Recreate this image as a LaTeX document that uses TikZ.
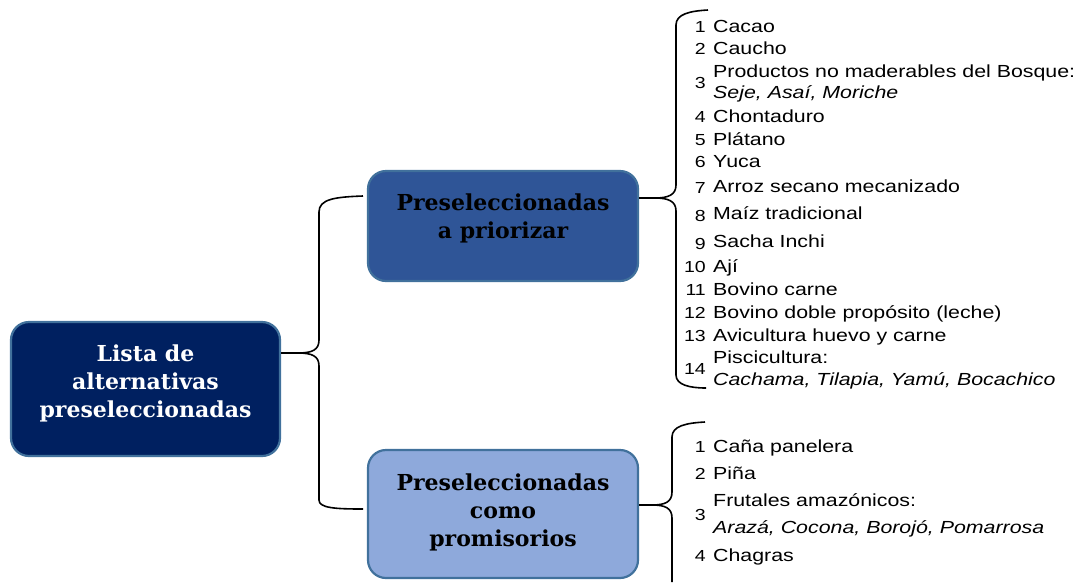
\documentclass[tikz,border=0pt]{standalone}
\usepackage{fontspec}
\newfontfamily\boxfont{DejaVu Serif}
\newfontfamily\listfont{Liberation Sans}[FakeStretch=1.22]
\definecolor{navy}{HTML}{002060}
\definecolor{midblue}{HTML}{2F5597}
\definecolor{lightblue}{HTML}{8EA9DB}
\definecolor{edgeblue}{HTML}{41719C}
\begin{document}
\begin{tikzpicture}[x=1pt,y=-1pt,
  box/.style={draw=edgeblue,line width=2.2pt,rounded corners=18pt,inner sep=0pt},
  boxtext/.style={font=\boxfont\bfseries\fontsize{22}{28}\selectfont,align=center,inner sep=0pt},
  item/.style={font=\listfont\fontsize{17.5}{21}\selectfont,anchor=base west,inner sep=0pt},
  num/.style={font=\listfont\fontsize{16}{18}\selectfont,anchor=base east,inner sep=0pt},
  brace/.style={line width=1.6pt,black}]
\useasboundingbox (0,0) rectangle (1081,582);
% boxes
\node[box,fill=navy,minimum width=269pt,minimum height=134pt] (main) at (145.5,389) {};
\node[boxtext,text=white] (maintext) at (145.5,383) {Lista de\\alternativas\\preseleccionadas};
\node[box,fill=midblue,minimum width=270pt,minimum height=110pt] (prio) at (503,226) {};
\node[boxtext,text=black] (priotext) at (503,218) {Preseleccionadas\\a priorizar};
\node[box,fill=lightblue,minimum width=270pt,minimum height=128pt] (prom) at (503,514) {};
\node[boxtext,text=black] (promtext) at (503,512) {Preseleccionadas\\como\\promisorios};
% brace anchors
\coordinate (mainR) at (main.east |- 0,353);
\coordinate (prioL) at (363,196);
\coordinate (promL) at (363,509);
\coordinate (prioR) at (prio.east |- 0,198);
\coordinate (listAtop) at (708,10);
\coordinate (listAbot) at (706,388);
\coordinate (promR) at (prom.east |- 0,505);
\coordinate (listBtop) at (705,422);
\coordinate (listBbot) at (672,582);
% brace 1
\draw[brace] (mainR) -- (298,353) .. controls (312,353) and (319,350) .. (319,340) -- (319,212) .. controls (319,199) and (335,197) .. (prioL);
\draw[brace] (298,353) .. controls (312,353) and (319,356) .. (319,366) -- (319,500) .. controls (319,508) and (335,509) .. (promL);
% brace 2
\draw[brace] (prioR) -- (655,198) .. controls (668,198) and (676,195) .. (676,185) -- (676,25) .. controls (676,14) and (690,11) .. (listAtop);
\draw[brace] (655,198) .. controls (668,198) and (676,201) .. (676,211) -- (676,375) .. controls (676,385) and (690,388) .. (listAbot);
% brace 3
\draw[brace] (promR) -- (652,505) .. controls (665,505) and (672,502) .. (672,492) -- (672,437) .. controls (672,426) and (686,423) .. (listBtop);
\draw[brace] (652,505) .. controls (665,505) and (672,508) .. (672,518) -- (listBbot);
% list A
\node[num] (a1) at (706,32) {1};   \node[item] (t1) at (713,32) {Cacao};
\node[num] (a2) at (706,54) {2};   \node[item] (t2) at (713,54) {Caucho};
\node[num] (a3) at (706,88) {3};   \node[item] (t3) at (713,77) {Productos no maderables del Bosque:};
\node[item] (t3b) at (713,98) {\itshape Seje, Asaí, Moriche};
\node[num] (a4) at (706,122) {4};  \node[item] (t4) at (713,122) {Chontaduro};
\node[num] (a5) at (706,145) {5};  \node[item] (t5) at (713,145) {Plátano};
\node[num] (a6) at (706,167) {6};  \node[item] (t6) at (713,167) {Yuca};
\node[num] (a7) at (706,193) {7};  \node[item] (t7) at (713,192) {Arroz secano mecanizado};
\node[num] (a8) at (706,221) {8};  \node[item] (t8) at (713,219) {Maíz tradicional};
\node[num] (a9) at (706,249) {9};  \node[item] (t9) at (713,247) {Sacha Inchi};
\node[num] (a10) at (706,272) {10}; \node[item] (t10) at (713,272) {Ají};
\node[num] (a11) at (706,295) {11}; \node[item] (t11) at (713,295) {Bovino carne};
\node[num] (a12) at (706,318) {12}; \node[item] (t12) at (713,318) {Bovino doble propósito (leche)};
\node[num] (a13) at (706,341) {13}; \node[item] (t13) at (713,341) {Avicultura huevo y carne};
\node[num] (a14) at (706,374) {14}; \node[item] (t14) at (713,363) {Piscicultura:};
\node[item] (t14b) at (713,385) {\itshape Cachama, Tilapia, Yamú, Bocachico};
% list B
\node[num] (b1) at (706,452) {1}; \node[item] (u1) at (713,452) {Caña panelera};
\node[num] (b2) at (706,479) {2}; \node[item] (u2) at (713,479) {Piña};
\node[num] (b3) at (706,520) {3}; \node[item] (u3) at (713,506) {Frutales amazónicos:};
\node[item] (u3b) at (713,533) {\itshape Arazá, Cocona, Borojó, Pomarrosa};
\node[num] (b4) at (706,561) {4}; \node[item] (u4) at (713,561) {Chagras};
\end{tikzpicture}
\end{document}
